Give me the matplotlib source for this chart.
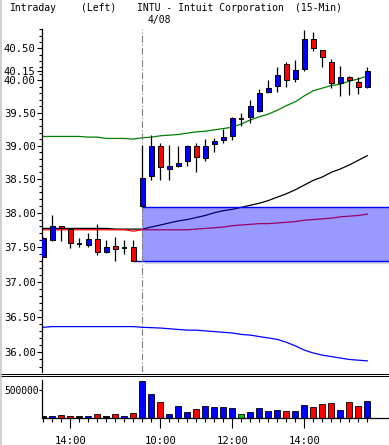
import matplotlib
matplotlib.use("Agg")
import matplotlib.pyplot as plt
from matplotlib.lines import Line2D
from matplotlib.ticker import FixedLocator, FixedFormatter, NullFormatter
import numpy as np

# 15-min bars, 4/07 13:15 .. 4/08 15:45
OPEN = [37.36, 37.60, 37.80, 37.76, 37.54, 37.53, 37.61, 37.42, 37.52, 37.49, 37.50,
        38.10, 38.55, 39.00, 38.65, 38.70, 38.77, 39.00, 38.82, 39.02, 39.08, 39.15,
        39.40, 39.44, 39.53, 39.82, 39.91, 40.25, 40.02, 40.17, 40.64, 40.48, 40.29,
        39.96, 40.05, 39.98, 39.89]
HIGH = [37.64, 37.96, 37.81, 37.78, 37.63, 37.70, 37.83, 37.60, 37.64, 37.60, 37.60,
        39.01, 39.16, 39.04, 39.01, 39.00, 39.01, 39.04, 39.10, 39.11, 39.25, 39.44,
        39.50, 39.70, 39.86, 40.00, 40.21, 40.28, 40.32, 40.79, 40.76, 40.48, 40.34,
        40.22, 40.07, 40.05, 40.21]
LOW = [37.35, 37.59, 37.58, 37.49, 37.50, 37.50, 37.38, 37.41, 37.30, 37.40, 37.30,
       38.09, 38.49, 38.49, 38.49, 38.68, 38.70, 38.61, 38.77, 38.90, 39.04, 39.09,
       39.30, 39.34, 39.51, 39.80, 39.82, 39.90, 39.98, 40.14, 40.46, 40.20, 39.88,
       39.76, 39.77, 39.79, 39.88]
CLOSE = [37.63, 37.80, 37.77, 37.55, 37.54, 37.61, 37.42, 37.50, 37.47, 37.49, 37.30,
         38.51, 39.00, 38.68, 38.70, 38.74, 39.00, 38.83, 39.00, 39.07, 39.13, 39.42,
         39.40, 39.60, 39.80, 39.88, 40.09, 40.00, 40.16, 40.65, 40.50, 40.36, 39.96,
         40.05, 40.00, 39.90, 40.15]

MA_GREEN = [39.14, 39.14, 39.14, 39.14, 39.14, 39.13, 39.13, 39.11, 39.11, 39.11, 39.10,
            39.12, 39.13, 39.15, 39.16, 39.17, 39.19, 39.21, 39.22, 39.24, 39.26, 39.28,
            39.33, 39.39, 39.44, 39.48, 39.54, 39.61, 39.67, 39.76, 39.84, 39.88, 39.92,
            39.94, 39.99, 40.02, 40.07]
MA_BLACK = [37.77, 37.77, 37.77, 37.77, 37.77, 37.77, 37.77, 37.77, 37.76, 37.76, 37.76,
            37.76, 37.79, 37.82, 37.85, 37.88, 37.90, 37.93, 37.96, 38.00, 38.03, 38.05,
            38.08, 38.11, 38.14, 38.18, 38.23, 38.28, 38.34, 38.41, 38.48, 38.53, 38.60,
            38.65, 38.71, 38.78, 38.85]
MA_RED = [37.75, 37.75, 37.75, 37.75, 37.75, 37.75, 37.75, 37.75, 37.75, 37.75, 37.73,
          37.75, 37.75, 37.75, 37.75, 37.75, 37.75, 37.76, 37.77, 37.78, 37.79, 37.81,
          37.82, 37.83, 37.84, 37.84, 37.85, 37.86, 37.87, 37.89, 37.90, 37.91, 37.92,
          37.94, 37.95, 37.96, 37.98]
MA_BLUE = [36.35, 36.36, 36.36, 36.36, 36.36, 36.36, 36.36, 36.36, 36.36, 36.36, 36.36,
           36.35, 36.345, 36.34, 36.33, 36.32, 36.31, 36.31, 36.30, 36.29, 36.28, 36.27,
           36.25, 36.24, 36.22, 36.20, 36.18, 36.14, 36.09, 36.03, 35.99, 35.96, 35.94,
           35.92, 35.90, 35.89, 35.88]

VOLUME = [28e3, 40e3, 58e3, 40e3, 28e3, 40e3, 76e3, 28e3, 76e3, 40e3, 93e3,
          646e3, 417e3, 276e3, 77e3, 206e3, 112e3, 153e3, 206e3, 188e3, 188e3, 171e3,
          65e3, 100e3, 171e3, 118e3, 135e3, 118e3, 118e3, 224e3, 188e3, 241e3, 259e3,
          135e3, 276e3, 206e3, 294e3]
VOL_TONE = ["k", "b", "r", "r", "k", "b", "r", "k", "r", "b", "r",
            "b", "b", "r", "b", "b", "b", "r", "b", "b", "b", "b", "g", "b", "b", "b",
            "b", "r", "b", "b", "r", "r", "r", "b", "r", "r", "b"]

DAY_START = 11          # first bar of 4/08
DAY_LABEL = "4/08"
TIME_POS = [3, 13, 21, 29]
TIME_TEXT = ["14:00", "10:00", "12:00", "14:00"]
PRICE_TICKS = [36.0, 36.5, 37.0, 37.5, 38.0, 38.5, 39.0, 39.5, 40.0, 40.15, 40.5]

BLUE, RED, GREEN = "#0000ff", "#ff0000", "#008000"
TONE = {"k": "#000000", "b": BLUE, "r": RED, "g": "#00c800"}
MONO = "DejaVu Sans Mono"
plt.rcParams.update({"font.family": MONO, "font.size": 7.6})

W, H = 389, 445


def px_rect(x0, y0, x1, y1):
    # pixel box (top-left origin) -> figure fraction
    return [x0 / W, 1 - y1 / H, (x1 - x0) / W, (y1 - y0) / H]


fig = plt.figure(figsize=(W / 100, H / 100), dpi=100)
ax = fig.add_axes(px_rect(42, 29, 389, 372))
axv = fig.add_axes(px_rect(42, 380, 389, 418), sharex=ax)

o, h, l, c = map(np.array, (OPEN, HIGH, LOW, CLOSE))
x = np.arange(len(o))
xlim = (-0.144, 38.41)

# ---------------------------------------------------------------- price ----
ax.set_yscale("log")
ax.plot(x, MA_GREEN, color=GREEN, lw=0.9, zorder=2)
ax.plot(x, MA_BLACK, color="black", lw=0.9, zorder=2)
ax.plot(x, MA_RED, color=RED, lw=0.9, zorder=2)
ax.plot(x, MA_BLUE, color=BLUE, lw=0.9, zorder=2)

# opening gap band
gap_top, gap_bot = l[DAY_START], l[DAY_START - 1]
ax.fill_between([DAY_START, xlim[1]], gap_bot, gap_top, color=BLUE, alpha=0.4, lw=0, zorder=2.5)
ax.hlines(gap_top, DAY_START, xlim[1], color=BLUE, lw=1.0, zorder=2.6)
ax.hlines(gap_bot, DAY_START - 1, xlim[1], color=BLUE, lw=1.0, zorder=2.6)
ax.hlines(gap_bot * 0.9993, DAY_START + 0.3, xlim[1], color="#888888", lw=1.6, alpha=0.35, zorder=2.4)

ax.axvline(DAY_START, color="#808080", lw=0.8, ls=(0, (6, 2, 1, 2)), zorder=2.7)

ax.vlines(x, l, h, color="black", lw=0.9, zorder=3)
up, dn, flat = c > o, c < o, c == o
ax.bar(x[up], (c - o)[up], bottom=o[up], width=0.55, color=BLUE, edgecolor="black", lw=0.7, zorder=4)
ax.bar(x[dn], (o - c)[dn], bottom=c[dn], width=0.55, color=RED, edgecolor="black", lw=0.7, zorder=4)
ax.hlines(c[flat], x[flat] - 0.3, x[flat] + 0.3, color="black", lw=1.3, zorder=4)

ax.set_xlim(*xlim)
ax.set_ylim(35.726, 40.804)
ax.yaxis.set_major_locator(FixedLocator(PRICE_TICKS))
ax.yaxis.set_major_formatter(FixedFormatter([f"{v:.2f}" for v in PRICE_TICKS]))
ax.yaxis.set_minor_locator(FixedLocator(np.round(np.arange(35.8, 40.85, 0.1), 2)))
ax.yaxis.set_minor_formatter(NullFormatter())
ax.tick_params(axis="y", which="major", length=3.5, width=0.8, pad=1, labelsize=7.6)
ax.tick_params(axis="y", which="minor", length=2, width=0.8)
ax.tick_params(axis="x", which="both", bottom=False, labelbottom=False)
for s in ("top", "right", "bottom"):
    ax.spines[s].set_visible(False)
ax.spines["left"].set_linewidth(0.9)

# --------------------------------------------------------------- volume ----
axv.axvline(DAY_START, color="#808080", lw=0.8, ls=(0, (6, 2, 1, 2)), zorder=0)
axv.bar(x, VOLUME, width=0.68, color=[TONE[t] for t in VOL_TONE], edgecolor="black", lw=0.6, zorder=2)
axv.set_ylim(0, 669000)
axv.set_yticks([500000])
axv.set_yticklabels(["500000"])
axv.xaxis.set_major_locator(FixedLocator(TIME_POS))
axv.xaxis.set_major_formatter(FixedFormatter(TIME_TEXT))
axv.xaxis.set_minor_locator(FixedLocator(x))
axv.tick_params(axis="x", which="major", length=7, width=0.8, pad=6, labelsize=7.6)
axv.tick_params(axis="x", which="minor", length=3, width=0.8)
axv.tick_params(axis="y", length=2, width=0.8, pad=0.5, labelsize=6.9)
for s in ("top", "right"):
    axv.spines[s].set_visible(False)
axv.spines["left"].set_linewidth(0.9)
axv.spines["bottom"].set_linewidth(0.9)

# --------------------------------------------------------------- frame -----
for xp, txt in [(10, "Intraday"), (81, "(Left)"), (137, "INTU - Intuit Corporation"), (295, "(15-Min)")]:
    fig.text(xp / W, 1 - 8 / H, txt, ha="left", va="center", fontsize=7.0, family=MONO)
fig.text(147 / W, 1 - 20 / H, DAY_LABEL, ha="left", va="center", fontsize=7.0, family=MONO)
for yp in (373.5, 375.8):
    fig.add_artist(Line2D([0, 1], [1 - yp / H] * 2, color="black", lw=0.75))
fig.add_artist(Line2D([0.8 / W] * 2, [0, 1], color="#c8c8c8", lw=1.2))

fig.savefig("out.png", dpi=100, facecolor="white")
